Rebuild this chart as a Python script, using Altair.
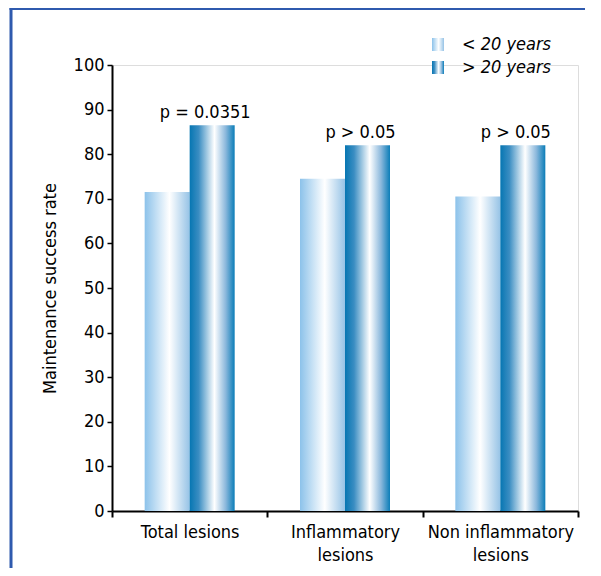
import altair as alt
import pandas as pd

categories = ["Total lesions", "Inflammatory lesions", "Non inflammatory lesions"]
series = ["< 20 years", "> 20 years"]
under20 = [71.5, 74.5, 70.5]
over20 = [86.5, 82.0, 82.0]
pvalues = ["p = 0.0351", "p > 0.05", "p > 0.05"]

rows = []
for c, a, b, p in zip(categories, under20, over20, pvalues):
    rows.append({"cat": c, "series": series[0], "value": a, "p": ""})
    rows.append({"cat": c, "series": series[1], "value": b, "p": p})
df = pd.DataFrame(rows)

FONT = "DejaVu Sans Condensed, sans-serif"

light = alt.Gradient(
    gradient="linear", x1=0, x2=1, y1=0, y2=0,
    stops=[
        alt.GradientStop(offset=0, color="#8cc2ea"),
        alt.GradientStop(offset=0.55, color="#ffffff"),
        alt.GradientStop(offset=1, color="#96c3e6"),
    ],
)
dark = alt.Gradient(
    gradient="linear", x1=0, x2=1, y1=0, y2=0,
    stops=[
        alt.GradientStop(offset=0, color="#0676b2"),
        alt.GradientStop(offset=0.2, color="#3a8dc2"),
        alt.GradientStop(offset=0.55, color="#ffffff"),
        alt.GradientStop(offset=0.8, color="#8bb8dc"),
        alt.GradientStop(offset=1, color="#0b7db8"),
    ],
)

x = alt.X(
    "cat:N", sort=categories, title=None,
    scale=alt.Scale(paddingInner=0, paddingOuter=0),
    axis=alt.Axis(
        labelAngle=0, domainColor="black", domainWidth=2, tickColor="black",
        tickWidth=2, tickSize=6, tickBand="extent", labelPadding=6,
        labelFont=FONT, labelFontSize=18, labelColor="black", labelBaseline="top",
        labelLineHeight=23,
        labelExpr="(isString(datum.label) && length(datum.label) > 0 && datum.label != 'Total lesions') ? [replace(datum.label, ' lesions', ''), 'lesions'] : datum.label",
    ),
)
xo = alt.XOffset("series:N", scale=alt.Scale(domain=series, paddingOuter=0.726, paddingInner=0))
y = alt.Y(
    "value:Q", title="Maintenance success rate",
    scale=alt.Scale(domain=[0, 100], nice=False),
    axis=alt.Axis(
        values=list(range(0, 101, 10)), grid=False, domainColor="black", domainWidth=2,
        tickColor="black", tickWidth=1.5, tickSize=5, labelPadding=3,
        labelFont=FONT, labelFontSize=18, labelColor="black",
        titleFont=FONT, titleFontSize=18, titleFontWeight="normal", titleColor="black",
        titlePadding=14,
    ),
)

base = alt.Chart(df)
bar_light = base.transform_filter(alt.datum.series == series[0]).mark_bar(color=light).encode(x=x, xOffset=xo, y=y)
bar_dark = base.transform_filter(alt.datum.series == series[1]).mark_bar(color=dark).encode(x=x, xOffset=xo, y=y)
ptext = base.transform_filter(alt.datum.series == series[1]).mark_text(
    font=FONT, fontSize=18, color="black", baseline="alphabetic", dy=-7, dx=-7
).encode(x=x, xOffset=xo, y=y, text="p:N")

one = alt.Chart(pd.DataFrame({"k": [0]}))
leg1 = one.mark_rect(color=light).encode(x=alt.value(320), x2=alt.value(332), y=alt.value(-27), y2=alt.value(-14))
leg2 = one.mark_rect(color=dark).encode(x=alt.value(320), x2=alt.value(332), y=alt.value(-4), y2=alt.value(9))
legt1 = one.mark_text(font=FONT, fontSize=18, fontStyle="italic", align="left", baseline="middle", color="black").encode(
    x=alt.value(350), y=alt.value(-20), text=alt.value(series[0]))
legt2 = one.mark_text(font=FONT, fontSize=18, fontStyle="italic", align="left", baseline="middle", color="black").encode(
    x=alt.value(350), y=alt.value(3), text=alt.value(series[1]))

frame_left = one.mark_rule(color="#2f5aae", strokeWidth=3).encode(x=alt.value(-101), y=alt.value(-57), y2=alt.value(600))
frame_top = one.mark_rule(color="#2f5aae", strokeWidth=3).encode(x=alt.value(-102.5), x2=alt.value(700), y=alt.value(-56.5))

chart = alt.layer(
    frame_left, frame_top, bar_light, bar_dark, ptext, leg1, leg2, legt1, legt2
).properties(
    width=466, height=446,
    padding={"left": 104, "top": 57, "right": 7, "bottom": 57},
    autosize=alt.AutoSizeParams(type="none"),
).configure_view(stroke=None).configure(background="white")

chart.save("out.html", embed_options={"renderer": "svg", "actions": False})
